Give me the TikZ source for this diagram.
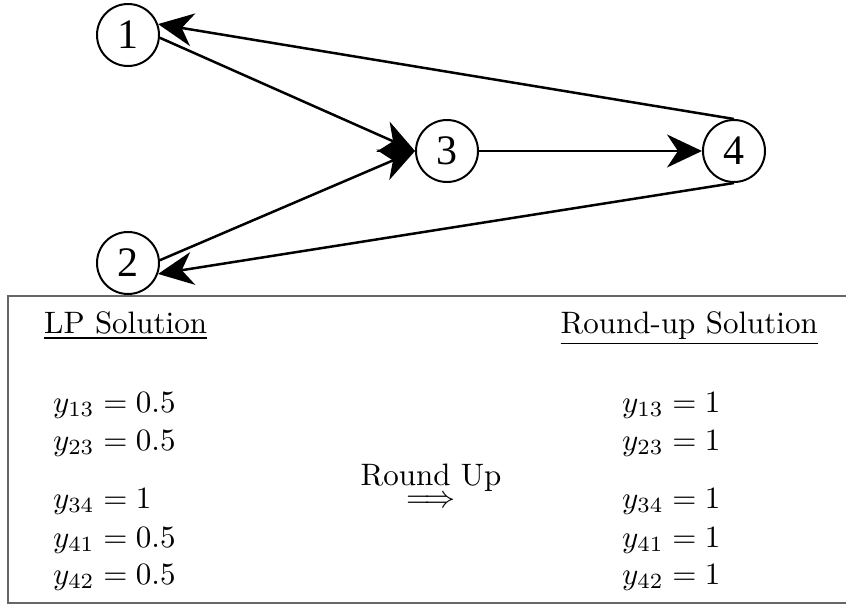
\documentclass[tikz,border=0pt]{standalone}
\usepackage{graphicx}
\usepackage{fontspec}
\newfontfamily\numfont{Liberation Serif}
\usetikzlibrary{arrows.meta}
\newcommand{\bigtxt}[1]{\scalebox{3.1}{#1}}
\begin{document}
\begin{tikzpicture}[x=1pt,y=-1pt,
  vert/.style={circle,draw,line width=2pt,minimum size=62pt,inner sep=0pt,font=\numfont\fontsize{42}{42}\selectfont},
  arr/.style={line width=2.5pt,-{Stealth[length=35pt,width=33pt,inset=11pt]}},
  txt/.style={inner sep=0pt},
  frame/.style={draw=black!60,line width=1.3pt}]
\useasboundingbox (0,0) rectangle (846,605);
\node[vert] (n1) at (128,35) {1};
\node[vert] (n2) at (128,263) {2};
\node[vert] (n3) at (447,151) {3};
\node[vert] (n4) at (734,151) {4};
\draw[arr] (n4.north) -- (n1.20);
\draw[arr] (n4.south) -- (n2.-20);
\draw[arr] (n1.-5) -- (n3.west);
\draw[arr] (n2.5) -- (n3.west);
\draw[arr] (n3.east) -- (n4.west);
\coordinate (bt) at (850,296);
\coordinate (bb) at (850,603);
\draw[frame] (bt) -- (8,296) -- (8,603) -- (bb);
\node[txt,anchor=base west] (lph) at (44,333) {\bigtxt{\underline{LP Solution}}};
\node[txt,anchor=base east] (ruh) at (818,333) {\bigtxt{\underline{Round-up Solution}}};
\node[txt,anchor=base west] (l1) at (53,412) {\bigtxt{$y_{13}=0.5$}};
\node[txt,anchor=base west] (l2) at (53,450) {\bigtxt{$y_{23}=0.5$}};
\node[txt,anchor=base west] (l3) at (53,508) {\bigtxt{$y_{34}=1$}};
\node[txt,anchor=base west] (l4) at (53,547) {\bigtxt{$y_{41}=0.5$}};
\node[txt,anchor=base west] (l5) at (53,584) {\bigtxt{$y_{42}=0.5$}};
\node[txt,anchor=base west] (r1) at (622,412) {\bigtxt{$y_{13}=1$}};
\node[txt,anchor=base west] (r2) at (622,450) {\bigtxt{$y_{23}=1$}};
\node[txt,anchor=base west] (r3) at (622,508) {\bigtxt{$y_{34}=1$}};
\node[txt,anchor=base west] (r4) at (622,547) {\bigtxt{$y_{41}=1$}};
\node[txt,anchor=base west] (r5) at (622,584) {\bigtxt{$y_{42}=1$}};
\node[txt,anchor=base] (ru) at (431,485) {\bigtxt{Round Up}};
\node[txt,anchor=base] (ra) at (431,507) {\bigtxt{$\Longrightarrow$}};
\end{tikzpicture}
\end{document}
